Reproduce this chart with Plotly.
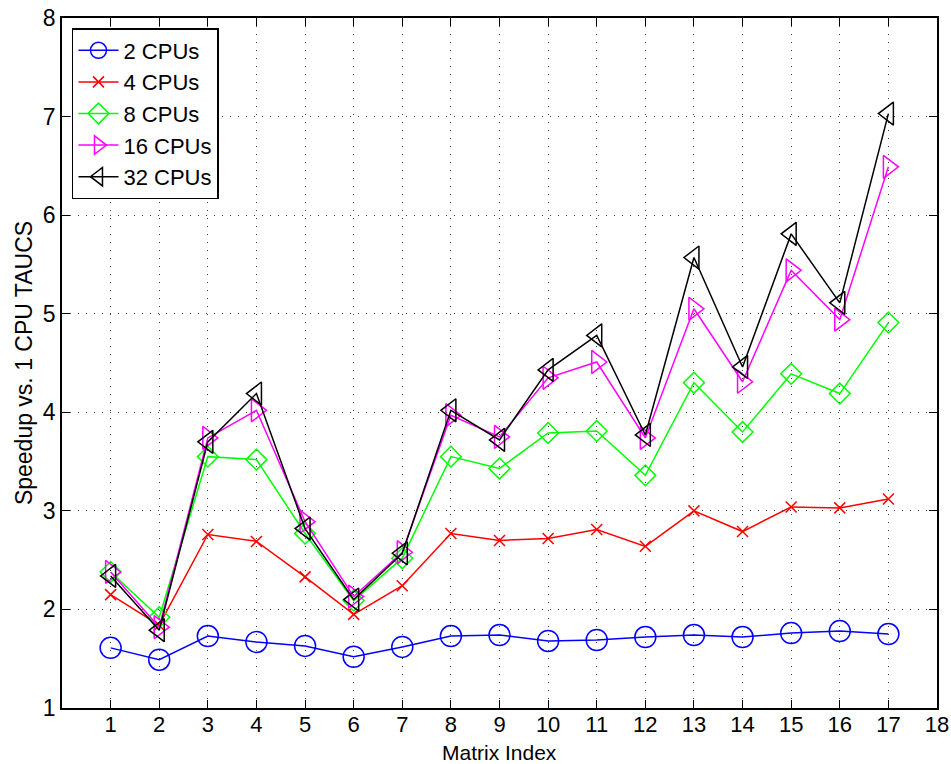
import plotly.graph_objects as go

matrix_index = list(range(1, 18))
cpu2 = [1.61, 1.49, 1.73, 1.67, 1.63, 1.52, 1.62, 1.73, 1.74, 1.68, 1.69, 1.72, 1.74, 1.72, 1.76, 1.78, 1.75]
cpu4 = [2.15, 1.84, 2.76, 2.69, 2.33, 1.95, 2.24, 2.77, 2.70, 2.72, 2.81, 2.64, 3.00, 2.79, 3.04, 3.03, 3.12]
cpu8 = [2.38, 1.92, 3.55, 3.52, 2.77, 2.09, 2.52, 3.55, 3.43, 3.79, 3.81, 3.36, 4.30, 3.80, 4.39, 4.19, 4.91]
cpu16 = [2.38, 1.82, 3.74, 4.02, 2.89, 2.13, 2.58, 3.97, 3.75, 4.35, 4.51, 3.74, 5.05, 4.31, 5.44, 4.94, 6.49]
cpu32 = [2.34, 1.79, 3.70, 4.19, 2.82, 2.10, 2.57, 4.02, 3.72, 4.43, 4.78, 3.77, 5.57, 4.46, 5.81, 5.11, 7.03]

series_names = ["2 CPUs", "4 CPUs", "8 CPUs", "16 CPUs", "32 CPUs"]
x_ticks = list(range(1, 19))
y_ticks = list(range(1, 9))
x_title = "Matrix Index"
y_title = "Speedup vs. 1 CPU TAUCS"

styles = [
    ("#0000ff", "circle-open", 21),
    ("#ff0000", "x-thin-open", 11),
    ("#00ff00", "diamond-open", 16),
    ("#ff00ff", "triangle-right-open", 20),
    ("#000000", "triangle-left-open", 20),
]

fig = go.Figure()
for name, ys, (col, sym, sz) in zip(series_names, [cpu2, cpu4, cpu8, cpu16, cpu32], styles):
    fig.add_trace(go.Scatter(
        x=matrix_index, y=ys, name=name, mode="lines+markers",
        line=dict(color=col, width=1.5),
        marker=dict(symbol=sym, size=sz, color=col, line=dict(color=col, width=1.5)),
    ))

fam = "Liberation Sans, Arial, Helvetica, sans-serif"
font = dict(family=fam, size=23, color="black")
xtick_font = dict(family=fam, size=22, color="black")
xtitle_font = dict(family=fam, size=21, color="black")
legend_font = dict(family=fam, size=22, color="black")

axis_common = dict(
    showline=True, linecolor="black", linewidth=1.5, mirror="ticks",
    ticks="inside", ticklen=8, tickcolor="black", tickwidth=1,
    showgrid=True, gridcolor="#444", gridwidth=1, griddash="1px,7px",
    zeroline=False, automargin=False,
)

fig.update_xaxes(range=[0, 18], tickvals=x_ticks, ticktext=[str(v) for v in x_ticks],
                 ticklabelstandoff=-4, tickfont=xtick_font, **axis_common)
fig.update_yaxes(range=[1, 8], tickvals=y_ticks, ticktext=[str(v) for v in y_ticks],
                 tickfont=font, title=dict(text=y_title, font=font, standoff=4), **axis_common)

fig.add_annotation(
    text=x_title, xref="paper", yref="paper", x=0.5, y=-0.0638,
    xanchor="center", yanchor="middle", showarrow=False, font=xtitle_font,
)

fig.update_layout(
    template="none",
    width=951, height=764,
    margin=dict(l=62, r=14, t=18, b=56),
    paper_bgcolor="white", plot_bgcolor="white",
    font=font,
    showlegend=True,
    legend=dict(
        x=0.0114, y=0.9855, xanchor="left", yanchor="top",
        bgcolor="white", bordercolor="black", borderwidth=1.5,
        font=legend_font, tracegroupgap=0, itemwidth=40,
    ),
)

fig.write_html("out.html")
